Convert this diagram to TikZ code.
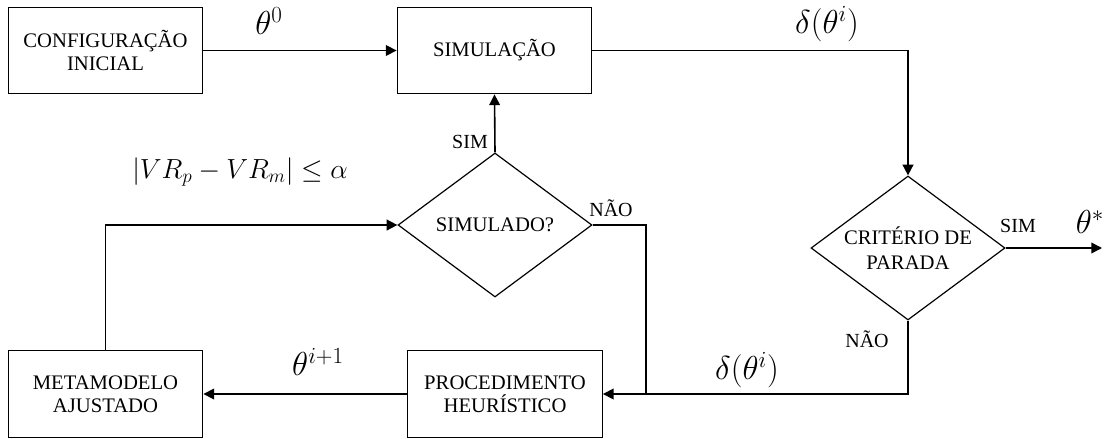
\documentclass[tikz,border=0pt]{standalone}
\usepackage{fontspec}
\setmainfont{Liberation Serif}
\usetikzlibrary{shapes.geometric,arrows.meta}
\begin{document}
\begin{tikzpicture}[x=0.75pt,y=-0.75pt,
  box/.style={draw,line width=0.9pt,rectangle,inner sep=0pt,align=center,
    minimum width=146pt,minimum height=65pt,font=\fontsize{15.5}{17.5}\selectfont},
  decision/.style={draw,line width=0.9pt,diamond,aspect=1.35,inner sep=0pt,align=center,
    minimum width=145.5pt,minimum height=108pt,font=\fontsize{15.5}{18.5}\selectfont},
  flow/.style={line width=1.2pt,-{Triangle[length=8pt,width=8pt]}},
  link/.style={line width=1.2pt},
  tag/.style={font=\fontsize{15}{17}\selectfont,inner sep=0pt},
  mlabel/.style={font=\fontsize{25}{28}\selectfont,inner sep=0pt},
  cond/.style={font=\fontsize{21}{24}\selectfont,inner sep=0pt}]
\useasboundingbox (0,0) rectangle (1107,439);

% process boxes
\node[box] (conf) at (105.5,50.5) {CONFIGURAÇÃO\\INICIAL};
\node[box] (sim)  at (494.5,50.5) {SIMULAÇÃO};
\node[box] (meta) at (105.5,394)  {METAMODELO\\AJUSTADO};
\node[box] (proc) at (505,394)    {PROCEDIMENTO\\HEURÍSTICO};

% decisions
\node[decision] (simq) at (495,225) {SIMULADO?};
\node[decision] (crit) at (908,248) {CRITÉRIO DE\\PARADA};

% auxiliary points
\coordinate (join) at (646,394);
\coordinate (out)  at (1102,248);

% connectors
\draw[flow] (conf.east) -- (sim.west);
\draw[flow] (sim.east) -| (crit.north);
\draw[flow] (crit.east) -- (out);
\draw[flow] (crit.south) |- (proc.east);
\draw[link] (simq.east) -| (join);
\draw[flow] (simq.north) -- (sim.south);
\draw[flow] (proc.west) -- (meta.east);
\draw[flow] (meta.north) |- (simq.west);

% labels
\node[mlabel] at (269,21) {$\theta^0$};
\node[mlabel] at (827,24) {$\delta(\theta^i)$};
\node[mlabel] at (1090,222) {$\theta^*$};
\node[mlabel] at (747,370) {$\delta(\theta^i)$};
\node[mlabel] at (318,362) {$\theta^{i+1}$};
\node[cond] at (240,172) {$\left|VR_p - VR_m\right| \leq \alpha$};
\node[tag] at (470,142) {SIM};
\node[tag] at (611,208) {NÃO};
\node[tag] at (1018,226) {SIM};
\node[tag] at (867,339) {NÃO};
\end{tikzpicture}
\end{document}
